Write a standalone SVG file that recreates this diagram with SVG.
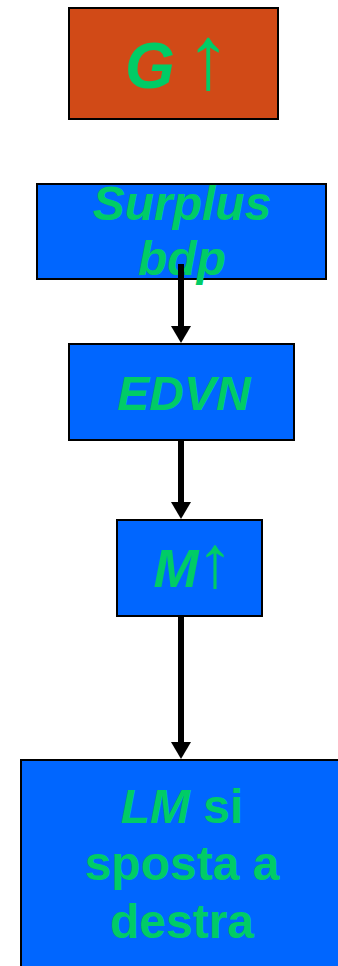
<svg xmlns="http://www.w3.org/2000/svg" width="338" height="966" viewBox="0 0 338 966">
<style>
.box{stroke:#000;stroke-width:2}
.blue{fill:#0066FF}
.t{font-family:"Liberation Sans",Arial,sans-serif;font-weight:bold;fill:#00CC66;text-anchor:middle}
.i{font-style:italic}
.ar{font-family:"Liberation Sans",Arial,sans-serif;font-weight:normal;fill:#00CC66;text-anchor:middle}
.conn{stroke:#000;stroke-width:6;fill:none}
</style>
<defs>
<marker id="ah" markerUnits="userSpaceOnUse" markerWidth="17" markerHeight="20" viewBox="0 0 17 20" refX="0" refY="10" orient="auto">
<path d="M0,0 L17,10 L0,20 Z" fill="#000"/>
</marker>
</defs>
<rect width="338" height="966" fill="#fff"/>
<g id="node-g">
<rect class="box" x="69" y="8" width="209" height="111" fill="#D14A17"/>
<text class="t i" x="150" y="88" font-size="64">G</text>
<text class="ar" x="208" y="88" font-size="90">↑</text>
</g>
<g id="node-surplus">
<rect class="box blue" x="37" y="184" width="289" height="95"/>
<text class="t i" x="182" y="220" font-size="48">Surplus</text>
<text class="t i" x="182" y="275" font-size="48">bdp</text>
</g>
<g id="node-edvn">
<rect class="box blue" x="69" y="344" width="225" height="96"/>
<text class="t i" x="184" y="410" font-size="48">EDVN</text>
</g>
<g id="node-m">
<rect class="box blue" x="117" y="520" width="145" height="96"/>
<text class="t i" x="176" y="587" font-size="54">M</text>
<text class="ar" x="215" y="587" font-size="74">↑</text>
</g>
<g id="node-lm">
<rect class="box blue" x="21" y="760" width="330" height="220"/>
<text class="t" x="182" y="823" font-size="48"><tspan class="i">LM</tspan> si</text>
<text class="t" x="182" y="880" font-size="48">sposta a</text>
<text class="t" x="182" y="938" font-size="48">destra</text>
</g>
<g id="connectors">
<line class="conn" x1="181" y1="264" x2="181" y2="326" marker-end="url(#ah)"/>
<line class="conn" x1="181" y1="440" x2="181" y2="502" marker-end="url(#ah)"/>
<line class="conn" x1="181" y1="616" x2="181" y2="742" marker-end="url(#ah)"/>
</g>
</svg>
